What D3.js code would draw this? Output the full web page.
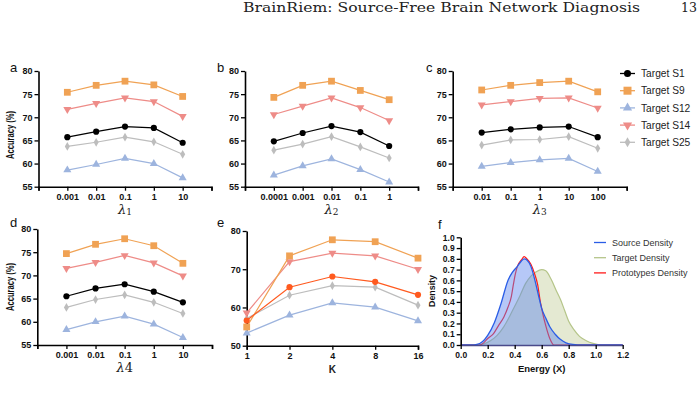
<!DOCTYPE html>
<html><head><meta charset="utf-8">
<script src="https://cdn.jsdelivr.net/npm/d3@7/dist/d3.min.js"></script>
<style>body{margin:0;background:#fff;} svg{display:block;}</style>
</head><body>
<svg id="c" width="699" height="412"></svg>
<script>
// ---------- data ----------
const seriesNames = ["Target S1","Target S9","Target S12","Target S14","Target S25"];
const lambda1Ticks = ["0.001","0.01","0.1","1","10"];
const lambda2Ticks = ["0.0001","0.001","0.01","0.1","1"];
const lambda3Ticks = ["0.01","0.1","1","10","100"];
const lambda4Ticks = ["0.001","0.01","0.1","1","10"];
const kTicks = ["1","2","4","8","16"];

const aS1  = [65.7,66.9,68.0,67.7,64.5];
const aS9  = [75.4,76.9,77.8,77.0,74.5];
const aS12 = [58.6,59.8,61.1,60.0,56.9];
const aS14 = [71.7,73.0,74.2,73.4,70.2];
const aS25 = [63.7,64.6,65.7,64.7,62.0];

const bS1  = [64.8,66.6,68.1,66.8,63.8];
const bS9  = [74.3,76.9,77.8,75.8,73.8];
const bS12 = [57.5,59.5,61.0,58.7,56.0];
const bS14 = [70.6,72.4,74.2,72.1,69.3];
const bS25 = [62.9,64.2,65.8,63.6,61.2];

const cS1  = [66.7,67.4,67.8,68.0,65.7];
const cS9  = [75.9,76.9,77.5,77.8,75.5];
const cS12 = [59.4,60.2,60.8,61.1,58.3];
const cS14 = [72.7,73.4,74.1,74.2,72.0];
const cS25 = [64.0,65.1,65.2,65.8,63.3];

const dS1  = [65.5,67.2,68.1,66.5,64.2];
const dS9  = [74.7,76.7,77.9,76.4,72.6];
const dS12 = [58.3,60.0,61.2,59.5,56.6];
const dS14 = [71.5,72.8,74.3,72.7,69.9];
const dS25 = [63.1,64.8,65.8,64.2,61.8];

const eS1  = [56.6,65.3,68.1,66.7,63.3];
const eS9  = [54.9,73.5,77.7,77.2,72.9];
const eS12 = [53.3,58.0,61.2,60.1,56.5];
const eS14 = [58.6,72.0,74.2,73.5,70.0];
const eS25 = [57.1,63.2,65.7,65.3,60.6];

const accTicks = [55,60,65,70,75,80];
const kAccTicks = [50,60,70,80];
const densYTicks = [0,0.1,0.2,0.3,0.4,0.5,0.6,0.7,0.8,0.9,1.0];
const energyTicks = [0,0.2,0.4,0.6,0.8,1.0,1.2];

const sourceDensity = [[0,0],[0.08,0],[0.12,0.005],[0.16,0.03],[0.2,0.09],[0.25,0.21],[0.3,0.39],[0.35,0.6],[0.38,0.67],[0.42,0.73],[0.45,0.78],[0.47,0.80],[0.49,0.79],[0.52,0.73],[0.55,0.6],[0.58,0.44],[0.6,0.34],[0.63,0.25],[0.66,0.17],[0.7,0.1],[0.74,0.05],[0.78,0.02],[0.83,0.005],[0.9,0],[1.2,0]];
const targetDensity = [[0,0],[0.12,0],[0.17,0.01],[0.22,0.04],[0.27,0.09],[0.32,0.17],[0.36,0.26],[0.4,0.36],[0.44,0.46],[0.48,0.57],[0.52,0.64],[0.56,0.68],[0.6,0.70],[0.63,0.69],[0.67,0.61],[0.71,0.5],[0.74,0.42],[0.77,0.32],[0.8,0.22],[0.84,0.14],[0.88,0.08],[0.93,0.04],[0.98,0.015],[1.05,0],[1.2,0]];
const prototypeDensity = [[0,0],[0.14,0],[0.17,0.02],[0.2,0.06],[0.24,0.1],[0.28,0.18],[0.32,0.26],[0.35,0.35],[0.375,0.45],[0.39,0.56],[0.405,0.66],[0.42,0.73],[0.45,0.79],[0.47,0.82],[0.49,0.80],[0.52,0.75],[0.545,0.67],[0.57,0.56],[0.59,0.4],[0.61,0.28],[0.63,0.18],[0.66,0.06],[0.69,0],[1.2,0]];
const densityNames = ["Source Density","Target Density","Prototypes Density"];

// ---------- style ----------
const colS1="#000000", colS9="#F0A254", colS12="#9DB4DE", colS14="#EE8C88", colS25="#BDBDBD";
const colS1e="#FF5A1F";
const svg = d3.select("#c");
const FONT = "Liberation Sans, Arial, sans-serif";

// header
svg.append("text").attr("x",243).attr("y",12).attr("font-family","DejaVu Serif, serif")
  .attr("font-size",12.5).attr("textLength",397).attr("lengthAdjust","spacingAndGlyphs")
  .attr("fill","#222").text("BrainRiem: Source-Free Brain Network Diagnosis");
svg.append("text").attr("x",697).attr("y",12).attr("text-anchor","end").attr("font-family","DejaVu Serif, serif")
  .attr("font-size",12.5).attr("fill","#222").text("13");

const symbols = {
  circle: {type:d3.symbolCircle,size:30,rot:0},
  square: {type:d3.symbolSquare,size:46,rot:0},
  triUp: {type:d3.symbolTriangle,size:28,rot:0},
  triDown:{type:d3.symbolTriangle,size:28,rot:180},
  diamond:{type:d3.symbolDiamond,size:22,rot:0}
};

function panelLetter(x,y,t){
  svg.append("text").attr("x",x).attr("y",y).attr("font-family",FONT).attr("font-size",13).attr("fill","#111").text(t);
}

function yLabel(x,y,t,len,fs){
  svg.append("text").attr("transform",`translate(${x},${y}) rotate(-90)`).attr("text-anchor","middle")
    .attr("font-family",FONT).attr("font-weight","bold").attr("font-size",fs||10).attr("fill","#111")
    .attr("textLength",len).attr("lengthAdjust","spacingAndGlyphs").text(t);
}

function styleAxis(g){
  g.selectAll("path.domain").attr("stroke","#000").attr("stroke-width",1.6);
  g.selectAll(".tick line").attr("stroke","#000").attr("stroke-width",1.3);
  g.selectAll(".tick text").attr("font-family",FONT).attr("font-weight","bold").attr("font-size",9).attr("fill","#111");
}

function linePanel(L, cats, yTicks, yDomain, series, padEnds, xlabel){
  const g = svg.append("g");
  let x;
  if(padEnds){
    x = d3.scalePoint().domain(["_s",...cats,"_e"]).range([L.x0,L.x1]);
  } else {
    x = d3.scalePoint().domain(cats).range([L.x0,L.x1]);
  }
  const y = d3.scaleLinear().domain(yDomain).range([L.yb,L.yt]);
  const xa = g.append("g").attr("transform",`translate(0,${L.yb})`)
    .call(d3.axisBottom(x).tickSizeOuter(0).tickSize(4).tickPadding(3).tickFormat(d=>d.startsWith("_")?"":d));
  styleAxis(xa);
  const ya = g.append("g").attr("transform",`translate(${L.x0},0)`)
    .call(d3.axisLeft(y).tickValues(yTicks).tickSize(4).tickSizeOuter(0).tickPadding(2).tickFormat(d3.format("d")));
  styleAxis(ya);
  const line = d3.line().x((d,i)=>x(cats[i])).y(d=>y(d));
  series.forEach(s=>{
    g.append("path").datum(s.v).attr("d",line).attr("fill","none").attr("stroke",s.c).attr("stroke-width",1.2);
    const sym = symbols[s.m];
    g.selectAll(null).data(s.v).enter().append("path")
      .attr("d",d3.symbol().type(sym.type).size(sym.size))
      .attr("transform",(d,i)=>`translate(${x(cats[i])},${y(d)}) rotate(${sym.rot})`)
      .attr("fill",s.c);
  });
  if(xlabel){
    const t = g.append("text").attr("x",(L.x0+L.x1)/2).attr("y",L.yb+27).attr("text-anchor","middle")
      .attr("fill","#222");
    xlabel(t);
  }
  return g;
}

function lambdaLabel(sub, small){
  return t=>{
    t.attr("font-family","DejaVu Serif, serif").attr("font-style","italic").attr("font-size",13);
    t.append("tspan").text("λ");
    t.append("tspan").attr("font-size",small?9:13).attr("font-style","normal").attr("dy",small?1:0).text(sub);
  };
}

function mkSeries(s1,s9,s12,s14,s25,c1){
  return [
    {v:s25,c:colS25,m:"diamond"},
    {v:s12,c:colS12,m:"triUp"},
    {v:s14,c:colS14,m:"triDown"},
    {v:s9,c:colS9,m:"square"},
    {v:s1,c:c1||colS1,m:"circle"}
  ];
}

const LA = {x0:38.5,x1:211.5,yt:71,yb:186.7};
const LB = {x0:245,x1:418,yt:71,yb:186.7};
const LC = {x0:452.7,x1:626.7,yt:71,yb:186.7};
const LD = {x0:37.3,x1:212,yt:229,yb:345};
const LE = {x0:246.7,x1:418,yt:231,yb:345.7};
const LF = {x0:460.7,x1:622.7,yt:237.3,yb:345};

linePanel(LA,lambda1Ticks,accTicks,[55,80],mkSeries(aS1,aS9,aS12,aS14,aS25),true,lambdaLabel("1",true));
linePanel(LB,lambda2Ticks,accTicks,[55,80],mkSeries(bS1,bS9,bS12,bS14,bS25),true,lambdaLabel("2",true));
linePanel(LC,lambda3Ticks,accTicks,[55,80],mkSeries(cS1,cS9,cS12,cS14,cS25),true,lambdaLabel("3",true));
linePanel(LD,lambda4Ticks,accTicks,[55,80],mkSeries(dS1,dS9,dS12,dS14,dS25),true,lambdaLabel("4",false));
linePanel(LE,kTicks,kAccTicks,[50,80],mkSeries(eS1,eS9,eS12,eS14,eS25,colS1e),false,
  t=>{t.attr("font-family",FONT).attr("font-weight","bold").attr("font-size",10).attr("y",LE.yb+27).text("K");});

panelLetter(10,72,"a"); panelLetter(217,72,"b"); panelLetter(426,72,"c");
panelLetter(10,227,"d"); panelLetter(217,227,"e"); panelLetter(438,229,"f");
yLabel(14,135,"Accuracy (%)",48);
yLabel(14,287,"Accuracy (%)",48);

// legend for line panels
const legendItems = [
  {n:seriesNames[0],c:colS1,m:"circle"},
  {n:seriesNames[1],c:colS9,m:"square"},
  {n:seriesNames[2],c:colS12,m:"triUp"},
  {n:seriesNames[3],c:colS14,m:"triDown"},
  {n:seriesNames[4],c:colS25,m:"diamond"}
];
const lg = svg.append("g").attr("transform","translate(620,73.5)");
legendItems.forEach((d,i)=>{
  const gy = i*17.2;
  lg.append("line").attr("x1",0).attr("x2",15).attr("y1",gy).attr("y2",gy).attr("stroke",d.c).attr("stroke-width",1.3);
  const sym = symbols[d.m];
  lg.append("path").attr("d",d3.symbol().type(sym.type).size(d.m==="square"?64:sym.size*1.3))
    .attr("transform",`translate(7.5,${gy}) rotate(${sym.rot})`).attr("fill",d.c);
  lg.append("text").attr("x",21).attr("y",gy+3.6).attr("font-family",FONT).attr("font-size",10.2).attr("fill","#222").text(d.n);
});

// ---------- density panel ----------
const fx = d3.scaleLinear().domain([0,1.2]).range([LF.x0,LF.x1]);
const fy = d3.scaleLinear().domain([0,1]).range([LF.yb,LF.yt]);
const gf = svg.append("g");
const area = d3.area().x(d=>fx(d[0])).y0(fy(0)).y1(d=>fy(d[1])).curve(d3.curveMonotoneX);
const ln = d3.line().x(d=>fx(d[0])).y(d=>fy(d[1])).curve(d3.curveMonotoneX);
gf.append("path").datum(targetDensity).attr("d",area).attr("fill","#C9D3A6").attr("fill-opacity",0.5);
gf.append("path").datum(targetDensity).attr("d",ln).attr("fill","none").attr("stroke","#B5C589").attr("stroke-width",1.2);
gf.append("path").datum(prototypeDensity).attr("d",ln).attr("fill","none").attr("stroke","#FF1A1A").attr("stroke-width",1.2);
gf.append("path").datum(sourceDensity).attr("d",area).attr("fill","#5E86EE").attr("fill-opacity",0.45);
gf.append("path").datum(sourceDensity).attr("d",ln).attr("fill","none").attr("stroke","#2A5DE6").attr("stroke-width",1.3);
const fxa = gf.append("g").attr("transform",`translate(0,${LF.yb})`)
  .call(d3.axisBottom(fx).tickValues(energyTicks).tickSize(4).tickSizeOuter(0).tickPadding(3).tickFormat(d3.format(".1f")));
styleAxis(fxa);
fxa.select("path.domain").attr("stroke","#4a4a8a");
const fya = gf.append("g").attr("transform",`translate(${LF.x0},0)`)
  .call(d3.axisLeft(fy).tickValues(densYTicks).tickSize(4).tickSizeOuter(0).tickPadding(2).tickFormat(d3.format(".1f")));
styleAxis(fya);
fya.selectAll(".tick text").attr("font-size",8.5);
fxa.selectAll(".tick text").attr("font-size",8.5);
gf.append("text").attr("x",(LF.x0+LF.x1)/2).attr("y",LF.yb+27).attr("text-anchor","middle")
  .attr("font-family",FONT).attr("font-weight","bold").attr("font-size",9.5).attr("fill","#111").text("Energy (X)");
yLabel(435,291,"Density",32,9.5);

const dl = svg.append("g").attr("transform","translate(594,242.5)");
const dCols = ["#2A5DE6","#B5C589","#FF1A1A"];
densityNames.forEach((n,i)=>{
  const gy = i*15.2;
  dl.append("line").attr("x1",0).attr("x2",12).attr("y1",gy).attr("y2",gy).attr("stroke",dCols[i]).attr("stroke-width",1.3);
  dl.append("text").attr("x",18).attr("y",gy+3.2).attr("font-family",FONT).attr("font-size",9).attr("fill","#333").text(n);
});
</script>
</body></html>
